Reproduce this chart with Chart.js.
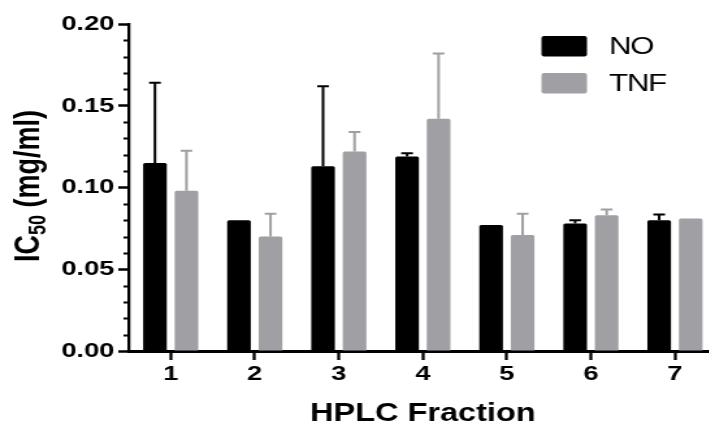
<!DOCTYPE html>
<html>
<head>
<meta charset="utf-8">
<title>IC50 by HPLC fraction</title>
<script src="https://cdn.jsdelivr.net/npm/chart.js@4.4.0/dist/chart.umd.min.js"></script>
<style>
  html, body { margin: 0; padding: 0; background: #fff; overflow: hidden; }
  #frame { width: 709px; height: 425px; overflow: hidden; }
  /* figure is laid out narrow and widened, like the exported Prism graph */
  #stretch { width: 560px; height: 425px; transform: scaleX(1.3); transform-origin: 0 0; }
</style>
</head>
<body>
<div id="frame"><div id="stretch"><canvas id="chart" width="560" height="425"></canvas></div></div>
<script>
const fractions = ['1', '2', '3', '4', '5', '6', '7'];

const noValues  = [0.115, 0.080, 0.113, 0.119, 0.077, 0.078, 0.080];
const noErrors  = [0.049, 0,     0.049, 0.002, 0,     0.002, 0.0035];

const tnfValues = [0.098, 0.070, 0.122, 0.142, 0.071, 0.083, 0.081];
const tnfErrors = [0.0245, 0.014, 0.012, 0.040, 0.013, 0.0035, 0];

const yTickValues = [0, 0.05, 0.10, 0.15, 0.20];
const yMinorStep = 0.01;

const FONT = "'Liberation Sans', Arial, Helvetica, sans-serif";
const BLACK = '#000000';
const GREY = '#a0a0a4';

// upper error bars (mean + SEM), drawn on top of the bars
const errorBars = {
  id: 'errorBars',
  afterDatasetsDraw(chart) {
    const ctx = chart.ctx;
    const y = chart.scales.y;
    chart.data.datasets.forEach((ds, di) => {
      const meta = chart.getDatasetMeta(di);
      meta.data.forEach((bar, i) => {
        const err = ds.errors[i];
        if (!err) return;
        const top = y.getPixelForValue(ds.data[i] + err);
        ctx.save();
        ctx.strokeStyle = ds.backgroundColor;
        ctx.lineWidth = 2;
        ctx.beginPath();
        ctx.moveTo(bar.x, bar.y);
        ctx.lineTo(bar.x, top);
        ctx.moveTo(bar.x - 4.5, top);
        ctx.lineTo(bar.x + 4.5, top);
        ctx.stroke();
        ctx.restore();
      });
    });
  }
};

// short minor ticks between the labelled ones on the y axis
const minorTicks = {
  id: 'minorTicks',
  afterDraw(chart) {
    const ctx = chart.ctx;
    const y = chart.scales.y;
    const left = chart.chartArea.left;
    ctx.save();
    ctx.strokeStyle = BLACK;
    ctx.lineWidth = 2;
    ctx.beginPath();
    for (let k = 0; k * yMinorStep <= y.max + 1e-9; k++) {
      if (k % 5 === 0) continue;
      const py = Math.round(y.getPixelForValue(k * yMinorStep)) + 0.5;
      ctx.moveTo(left - 4, py);
      ctx.lineTo(left, py);
    }
    ctx.stroke();
    ctx.restore();
  }
};

// rotated y title with the subscript in IC50
const yTitle = {
  id: 'yTitle',
  afterDraw(chart) {
    const ctx = chart.ctx;
    ctx.save();
    ctx.translate(29.5, 186);
    ctx.rotate(-Math.PI / 2);
    ctx.fillStyle = BLACK;
    ctx.textBaseline = 'alphabetic';
    const big = 'bold 27px ' + FONT;
    const small = 'bold 18px ' + FONT;
    ctx.font = big;
    const w1 = ctx.measureText('IC').width;
    const w3 = ctx.measureText(' (mg/ml)').width;
    ctx.font = small;
    const w2 = ctx.measureText('50').width;
    let x = -(w1 + w2 + w3) / 2;
    ctx.font = big;
    ctx.fillText('IC', x, 0);
    x += w1;
    ctx.font = small;
    ctx.fillText('50', x, 5);
    x += w2;
    ctx.font = big;
    ctx.fillText(' (mg/ml)', x, 0);
    ctx.restore();
  }
};

// legend inside the plot, top right
const insideLegend = {
  id: 'insideLegend',
  afterDraw(chart) {
    const ctx = chart.ctx;
    const area = chart.chartArea;
    const bx = area.right - 135;
    ctx.save();
    chart.data.datasets.forEach((ds, i) => {
      const by = area.top + 12 + i * 37;
      ctx.fillStyle = ds.backgroundColor;
      ctx.beginPath();
      ctx.roundRect(bx, by, 35, 20.5, 2);
      ctx.fill();
      ctx.fillStyle = BLACK;
      ctx.font = '24px ' + FONT;
      ctx.letterSpacing = '-1px';
      ctx.textBaseline = 'middle';
      ctx.fillText(ds.label, bx + 52, by + 11.5);
    });
    ctx.restore();
  }
};

new Chart(document.getElementById('chart').getContext('2d'), {
  type: 'bar',
  data: {
    labels: fractions,
    datasets: [{
      label: 'NO',
      data: noValues,
      errors: noErrors,
      backgroundColor: BLACK,
      borderRadius: 1.5,
      categoryPercentage: 0.75,
      barPercentage: 0.75
    }, {
      label: 'TNF',
      data: tnfValues,
      errors: tnfErrors,
      backgroundColor: GREY,
      borderRadius: 1.5,
      categoryPercentage: 0.75,
      barPercentage: 0.75
    }]
  },
  options: {
    responsive: false,
    animation: false,
    layout: { padding: { top: 24, right: 8.5, bottom: 0, left: 0 } },
    plugins: {
      legend: { display: false },
      tooltip: { enabled: false }
    },
    scales: {
      x: {
        offset: true,
        grid: {
          offset: false,
          drawOnChartArea: false,
          tickLength: 9,
          tickWidth: 2.3,
          tickColor: BLACK
        },
        border: { color: BLACK, width: 3 },
        ticks: {
          color: BLACK,
          padding: 2,
          font: { family: FONT, size: 21, weight: 'bold' }
        },
        title: {
          display: true,
          text: 'HPLC Fraction',
          color: BLACK,
          padding: { top: 0, bottom: 0 },
          font: { family: FONT, size: 25, weight: 'bold', lineHeight: 0.85 }
        },
        afterFit(scale) { scale.height = 74; }
      },
      y: {
        min: 0,
        max: 0.2,
        grid: {
          drawOnChartArea: false,
          tickLength: 8,
          tickWidth: 2.5,
          tickColor: BLACK
        },
        border: { color: BLACK, width: 2.3 },
        ticks: {
          color: BLACK,
          padding: 3,
          font: { family: FONT, size: 21, weight: 'bold' },
          callback: v => v.toFixed(2)
        },
        afterBuildTicks(scale) {
          scale.ticks = yTickValues.map(v => ({ value: v }));
        },
        afterFit(scale) { scale.width = 99; }
      }
    }
  },
  plugins: [errorBars, minorTicks, yTitle, insideLegend]
});
</script>
</body>
</html>
